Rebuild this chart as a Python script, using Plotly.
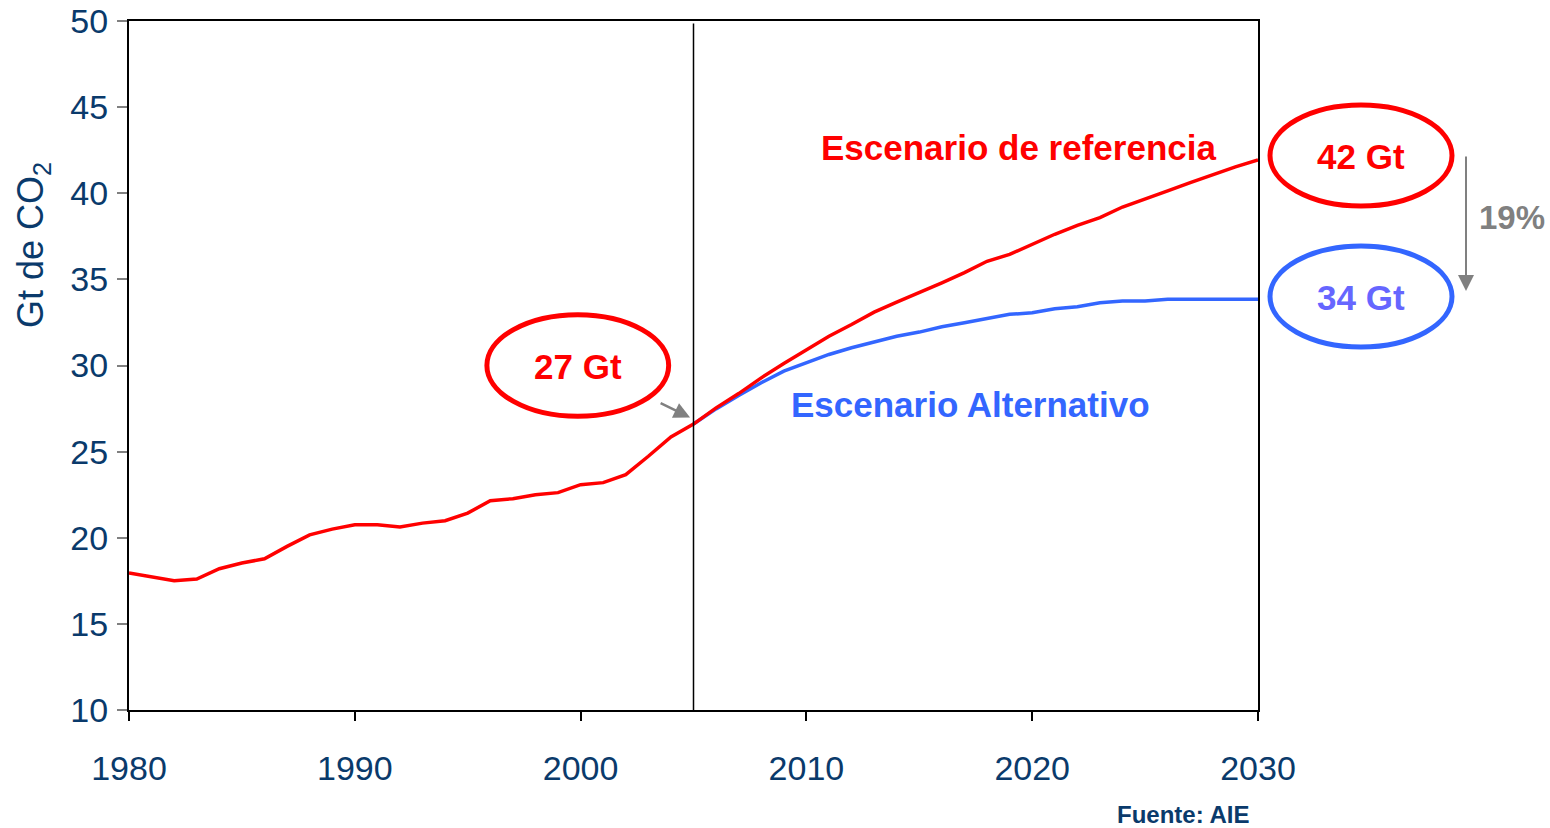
import plotly.graph_objects as go

# ---- data ----
years_ref = list(range(1980, 2031))
ref_values = [17.95, 17.7, 17.5, 17.6, 18.2, 18.53, 18.78, 19.5, 20.17, 20.5,
              20.76, 20.76, 20.62, 20.85, 20.99, 21.43, 22.15, 22.27, 22.5, 22.62,
              23.08, 23.2, 23.66, 24.73, 25.85, 26.6,
              27.54, 28.37, 29.28, 30.12, 30.93, 31.7, 32.38, 33.1, 33.68, 34.22,
              34.8, 35.39, 36.05, 36.45, 37.03, 37.62, 38.14, 38.59, 39.2, 39.65,
              40.14, 40.62, 41.1, 41.53, 41.94]
years_alt = list(range(2005, 2031))
alt_values = [26.6, 27.48, 28.26, 29.0, 29.67, 30.16, 30.64, 31.03, 31.36, 31.7,
              31.94, 32.25, 32.48, 32.71, 32.97, 33.06, 33.29, 33.41, 33.64, 33.74,
              33.74, 33.84, 33.84, 33.84, 33.84, 33.84]
x_ticks = [1980, 1990, 2000, 2010, 2020, 2030]
y_ticks = [10, 15, 20, 25, 30, 35, 40, 45, 50]

NAVY = "#0A3A6B"
RED = "#FF0000"
BLUE = "#3366FF"
GRAY = "#808080"
FONT = "Liberation Sans, Arial, sans-serif"

W, H = 1550, 828
PLOT_L, PLOT_R, PLOT_T, PLOT_B = 129, 1258, 21, 710   # pixels of plot area
L, T = PLOT_L, PLOT_T
R, B = W - PLOT_R, H - PLOT_B
PW, PH = PLOT_R - PLOT_L, PLOT_B - PLOT_T


def px_x(p):
    return (p - PLOT_L) / PW


def px_y(p):
    return (PLOT_B - p) / PH


fig = go.Figure()
fig.add_trace(go.Scatter(x=years_alt, y=alt_values, mode="lines",
                         line=dict(color=BLUE, width=3.5), showlegend=False))
fig.add_trace(go.Scatter(x=years_ref, y=ref_values, mode="lines",
                         line=dict(color=RED, width=3.5), showlegend=False))

shapes = [
    dict(type="line", xref="x", yref="y", x0=2005, x1=2005, y0=10, y1=49.85,
         line=dict(color="black", width=1.5)),
    dict(type="circle", xref="x", yref="y", x0=1995.85, x1=2003.9, y0=27.05, y1=32.95,
         line=dict(color=RED, width=5)),
    dict(type="circle", xref="paper", yref="paper", x0=px_x(1270), x1=px_x(1452),
         y0=px_y(206), y1=px_y(105), line=dict(color=RED, width=5)),
    dict(type="circle", xref="paper", yref="paper", x0=px_x(1270), x1=px_x(1452),
         y0=px_y(347), y1=px_y(246), line=dict(color=BLUE, width=5)),
]

C = dict(xanchor="center", yanchor="middle", showarrow=False)
annotations = [
    dict(text="Escenario de referencia", x=2019.4, y=42.67, xref="x", yref="y",
         font=dict(family=FONT, size=35, color=RED, weight="bold"), **C),
    dict(text="Escenario Alternativo", x=2017.25, y=27.73, xref="x", yref="y",
         font=dict(family=FONT, size=35, color=BLUE, weight="bold"), **C),
    dict(text="27 Gt", x=1999.88, y=29.94, xref="x", yref="y",
         font=dict(family=FONT, size=35, color=RED, weight="bold"), **C),
    dict(text="42 Gt", x=px_x(1361), y=px_y(156), xref="paper", yref="paper",
         font=dict(family=FONT, size=35, color=RED, weight="bold"), **C),
    dict(text="34 Gt", x=px_x(1361), y=px_y(297), xref="paper", yref="paper",
         font=dict(family=FONT, size=35, color="#6666FF", weight="bold"), **C),
    dict(text="19%", x=px_x(1512), y=px_y(217), xref="paper", yref="paper",
         font=dict(family=FONT, size=33, color=GRAY, weight="bold"), **C),
    dict(text="Gt de CO<sub>2</sub>", x=px_x(33), y=px_y(245), xref="paper", yref="paper",
         textangle=-90, font=dict(family=FONT, size=36, color=NAVY), **C),
    dict(text="Fuente: AIE", x=px_x(1183), y=px_y(814), xref="paper", yref="paper",
         font=dict(family=FONT, size=24, color=NAVY, weight="bold"), **C),
    # small arrow to 2005
    dict(text="", x=2004.85, y=26.98, xref="x", yref="y", ax=-31, ay=-15,
         showarrow=True, arrowhead=2, arrowsize=1.3, arrowwidth=2.5, arrowcolor=GRAY),
    # big vertical arrow
    dict(text="", x=px_x(1466), y=px_y(291), xref="paper", yref="paper", ax=0, ay=-136,
         showarrow=True, arrowhead=2, arrowsize=1.6, arrowwidth=2, arrowcolor=GRAY),
]

fig.update_layout(
    width=W, height=H,
    margin=dict(l=L, r=R, t=T, b=B, autoexpand=False),
    paper_bgcolor="white", plot_bgcolor="white",
    shapes=shapes, annotations=annotations,
    xaxis=dict(range=[1980, 2030], tickvals=x_ticks, showgrid=False, zeroline=False,
               showline=True, linecolor="black", linewidth=2, mirror=True,
               ticks="outside", ticklen=9, tickcolor="black", tickwidth=1.5,
               ticklabelstandoff=18, ticklabeloverflow="allow",
               tickfont=dict(family=FONT, size=34, color=NAVY)),
    yaxis=dict(range=[10, 50], tickvals=y_ticks, showgrid=False, zeroline=False,
               showline=True, linecolor="black", linewidth=2, mirror=True,
               ticks="outside", ticklen=10, tickcolor=GRAY, tickwidth=1.5,
               ticklabelstandoff=2, ticklabeloverflow="allow",
               tickfont=dict(family=FONT, size=34, color=NAVY)),
)

fig.write_html(
    "out.html",
    config={"displayModeBar": False},
    post_script="document.body.style.margin='0';document.body.style.overflow='hidden';",
)
